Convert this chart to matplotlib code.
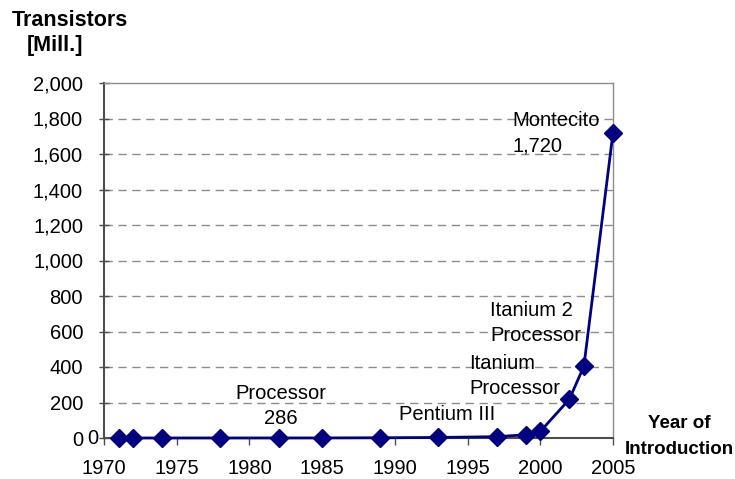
import matplotlib
matplotlib.use("Agg")
import matplotlib.pyplot as plt
from matplotlib.ticker import FuncFormatter, MultipleLocator

years = [1971, 1972, 1974, 1978, 1982, 1985, 1989, 1993, 1997, 1999, 2000, 2002, 2003, 2005]
transistors = [0.0023, 0.0035, 0.006, 0.029, 0.134, 0.275, 1.2, 3.1, 7.5, 18, 37, 218, 405, 1720]

labels = ["Processor\n286", "Pentium III", "Itanium\nProcessor", "Itanium 2\nProcessor", "Montecito\n1,720"]
label_x = [1982.17, 1993.6, 1995.1, 1996.55, 1998.1]
label_y = [180, 130, 350, 648, 1718]
label_ha = ["center", "center", "left", "left", "left"]

plt.rcParams['font.family'] = ['Liberation Sans', 'DejaVu Sans']

fig = plt.figure(figsize=(7.35, 4.79), dpi=100)
ax = fig.add_axes([104/735, 1-438/479, (613-104)/735, (438-83)/479])

ax.plot(years, transistors, color='#000080', lw=2, marker='D', markersize=9, zorder=3, clip_on=False)

ax.set_xlim(1970, 2005)
ax.set_ylim(0, 2000)
ax.xaxis.set_major_locator(MultipleLocator(5))
ax.yaxis.set_major_locator(MultipleLocator(200))
ax.yaxis.set_major_formatter(FuncFormatter(lambda v, p: f"{int(v):,}"))

for y in range(200, 2000, 200):
    ax.axhline(y, color='#8c8c8c', lw=1, ls=(0, (6, 4)), zorder=1)

for s in ['top', 'right']:
    ax.spines[s].set_color('#8c8c8c')
    ax.spines[s].set_linewidth(1)
for s in ['left', 'bottom']:
    ax.spines[s].set_color('#4d4d4d')
    ax.spines[s].set_linewidth(1.5)

ax.tick_params(axis='y', labelsize=14.5, color='#4d4d4d', width=1, length=7, direction='inout', pad=11.6)
ax.tick_params(axis='x', labelsize=14.5, color='#4d4d4d', width=1, length=5, direction='out', pad=10)

# stray data label "0" next to the first point
ax.text(1969.2, 0, "0", fontsize=14.5, ha='center', va='center', clip_on=False)

for txt, x, y, ha in zip(labels, label_x, label_y, label_ha):
    ax.text(x, y, txt, fontsize=14.5, ha=ha, va='center', linespacing=1.4, zorder=2)

fig.text(12/735, 1-20/479, "Transistors", fontsize=15.5, fontweight='bold', ha='left', va='center')
fig.text(27/735, 1-45/479, "[Mill.]", fontsize=15.5, fontweight='bold', ha='left', va='center')
fig.text(679/735, 1-423/479, "Year of", fontsize=13.5, fontweight='bold', ha='center', va='center')
fig.text(679/735, 1-449/479, "Introduction", fontsize=13.5, fontweight='bold', ha='center', va='center')

fig.savefig("out.png", dpi=100)
